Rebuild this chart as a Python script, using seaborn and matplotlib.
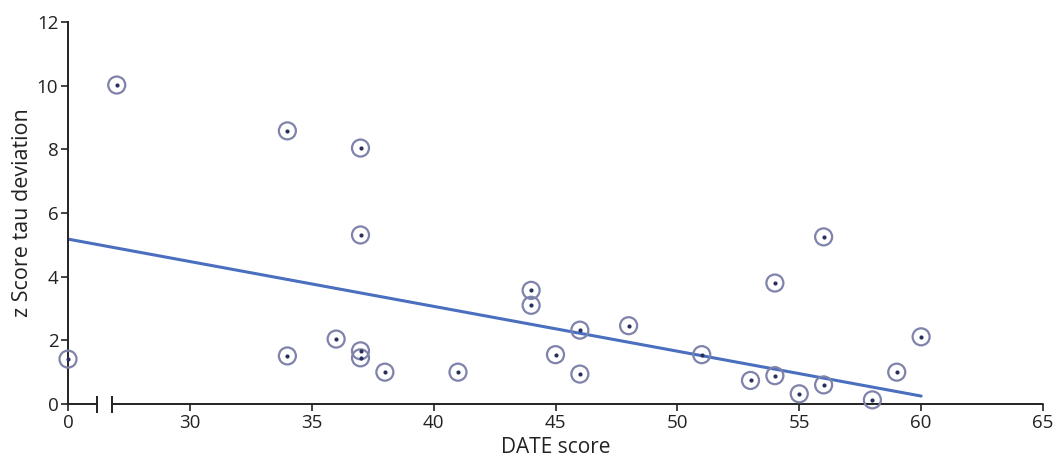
import numpy as np
import pandas as pd
import matplotlib
matplotlib.use("Agg")
import matplotlib.pyplot as plt
import seaborn as sns

# DATE score vs z score tau deviation
date_score = [0, 27, 34, 37, 37, 34, 36, 37, 37, 38, 41, 44, 44, 45, 46, 46, 48,
              51, 53, 54, 54, 55, 56, 56, 58, 59, 60]
tau_z = [1.41, 10.02, 8.58, 8.04, 5.31, 1.51, 2.04, 1.67, 1.45, 1.0, 1.0, 3.57, 3.10,
         1.55, 2.32, 0.94, 2.46, 1.55, 0.74, 0.89, 3.80, 0.32, 5.25, 0.60, 0.13, 1.0, 2.11]

# fitted line end points as drawn in the figure
fit_x = [0, 60]
fit_y = [5.18, 0.25]

x_ticks = [0, 30, 35, 40, 45, 50, 55, 60, 65]
y_ticks = [0, 2, 4, 6, 8, 10, 12]

BREAK_POS = 25  # where the real 0 sits on the broken axis


def to_axis(x):
    x = np.asarray(x, dtype=float)
    return np.where(x == 0, BREAK_POS, x)


sns.set_style("ticks")
plt.rcParams['font.family'] = ['Open Sans', 'DejaVu Sans']

df = pd.DataFrame({'pos': to_axis(date_score), 'z': tau_z})
fit = pd.DataFrame({'pos': to_axis(fit_x), 'z': fit_y})

fig = plt.figure(figsize=(10.56, 4.57), dpi=100)
ax = fig.add_axes([68 / 1056, 53 / 457, (1043 - 68) / 1056, (404 - 22) / 457])

sns.lineplot(data=fit, x='pos', y='z', color='#4a6fbf', linewidth=2.2, ax=ax)
sns.scatterplot(data=df, x='pos', y='z', s=150, facecolor='none', edgecolor='#7f82aa',
                linewidth=1.6, ax=ax, clip_on=False, zorder=3)
sns.scatterplot(data=df, x='pos', y='z', s=9, color='#27315c', linewidth=0, ax=ax,
                clip_on=False, zorder=4)

ax.set_xlim(25, 65)
ax.set_ylim(0, 12)
ax.set_xticks(to_axis(x_ticks))
ax.set_xticklabels([str(t) for t in x_ticks])
ax.set_yticks(y_ticks)
ax.tick_params(labelsize=13.5, length=5, width=1.2, color='#222222', labelcolor='#222222', pad=2)
ax.set_xlabel('DATE score', fontsize=15, color='#222222', labelpad=4)
ax.set_ylabel('z Score tau deviation', fontsize=15.5, color='#222222', labelpad=3)

sns.despine(ax=ax)
ax.spines['left'].set_linewidth(1.4)
ax.spines['left'].set_color('#222222')
ax.spines['bottom'].set_visible(False)

# broken x axis: two segments with a gap and short bars at the break
b1, b2 = 26.19, 26.8
ax.plot([25, b1], [0, 0], color='#222222', lw=1.4, clip_on=False, zorder=2)
ax.plot([b2, 65], [0, 0], color='#222222', lw=1.4, clip_on=False, zorder=2)
ax.vlines([b1, b2], -0.28, 0.24, color='#222222', lw=1.4, clip_on=False, zorder=2)

plt.savefig('out.png', dpi=100)
